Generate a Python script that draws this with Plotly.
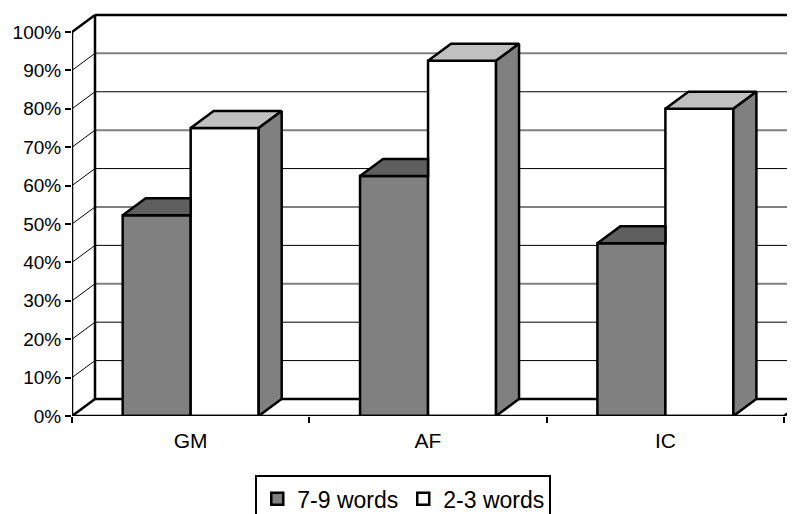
import plotly.graph_objects as go

categories = ["GM", "AF", "IC"]
series_names = ["7-9 words", "2-3 words"]
words_7_9 = [52.3, 62.5, 45]
words_2_3 = [75, 92.5, 80]
y_ticks = [0, 10, 20, 30, 40, 50, 60, 70, 80, 90, 100]
y_tick_labels = [f"{v}%" for v in y_ticks]

# style / projection constants
BAR_W = 0.2865
DX = 0.0969      # depth offset, category units
DY = 4.43        # depth offset, percent units
GREY = "#808080"
DARK = "#5f5f5f"
LIGHT = "#c0c0c0"
FONT = "Liberation Sans"
EDGE = 2.5
SOFT_GRID = (30, 50, 70, 90)
x_pos = [i + 0.5 for i in range(len(categories))]
X_END = 3.046

fig = go.Figure()

fig.add_trace(go.Bar(x=x_pos, y=words_7_9, name=series_names[0], width=BAR_W,
                     marker=dict(color=GREY, line=dict(color="black", width=EDGE))))
fig.add_trace(go.Bar(x=x_pos, y=words_2_3, name=series_names[1], width=BAR_W,
                     marker=dict(color="white", line=dict(color="black", width=EDGE))))


def poly(xs, ys, color):
    fig.add_trace(go.Scatter(x=xs + xs[:1], y=ys + ys[:1], mode="lines", fill="toself",
                             fillcolor=color, line=dict(color="black", width=EDGE),
                             showlegend=False, hoverinfo="skip"))


for c, v in zip(x_pos, words_7_9):
    x0, x1 = c - BAR_W, c
    poly([x0, x0 + DX, x1, x1], [v, v + DY, v + DY, v], DARK)

for c, v in zip(x_pos, words_2_3):
    x0, x1 = c, c + BAR_W
    poly([x0, x0 + DX, x1 + DX, x1], [v, v + DY, v + DY, v], LIGHT)
    poly([x1, x1 + DX, x1 + DX, x1], [v, v + DY, DY, 0], GREY)

shapes = []
for v in y_ticks:
    heavy = v in (0, 100)
    soft = v in SOFT_GRID
    col = "#808080" if soft else "black"
    w = EDGE if heavy else (2 if soft else 1)
    shapes.append(dict(type="line", xref="x", yref="y", layer="below", x0=DX, x1=X_END,
                       y0=v + DY, y1=v + DY, line=dict(color=col, width=w)))
    shapes.append(dict(type="line", xref="x", yref="y", layer="below", x0=0, x1=DX,
                       y0=v, y1=v + DY, line=dict(color="black", width=EDGE if heavy else 1)))
shapes.append(dict(type="line", xref="x", yref="y", layer="below", x0=DX, x1=DX,
                   y0=DY, y1=100 + DY, line=dict(color="black", width=EDGE)))
shapes.append(dict(type="line", xref="x", yref="y", layer="below", x0=3, x1=3 + DX,
                   y0=0, y1=DY, line=dict(color="black", width=EDGE)))
shapes.append(dict(type="line", xref="x", yref="y", layer="above", x0=0, x1=0,
                   y0=0, y1=100, line=dict(color="black", width=EDGE)))
shapes.append(dict(type="line", xref="x", yref="y", layer="above", x0=0, x1=3,
                   y0=0, y1=0, line=dict(color="black", width=EDGE)))

fig.update_layout(
    width=787, height=506,
    margin=dict(l=64, r=0, t=4, b=98, autoexpand=False),
    paper_bgcolor="white", plot_bgcolor="white",
    barmode="group", bargap=1 - 2 * BAR_W, bargroupgap=0,
    font=dict(family=FONT, size=19, color="black"),
    shapes=shapes,
    xaxis=dict(range=[0, X_END], tickmode="array", tickvals=x_pos, ticktext=categories,
               ticks="", showgrid=False, zeroline=False, showline=False,
               tickfont=dict(size=21), ticklabelstandoff=10,
               minor=dict(tickmode="array", tickvals=[0, 1, 2, 3], ticks="outside",
                          ticklen=6, tickwidth=2, tickcolor="black", showgrid=False)),
    yaxis=dict(range=[0, 105.2], tickmode="array", tickvals=y_ticks, ticktext=y_tick_labels,
               ticks="outside", ticklen=6, tickwidth=2, tickcolor="black",
               showgrid=False, zeroline=False, showline=False, tickfont=dict(size=19)),
    showlegend=True,
    legend=dict(orientation="h", x=0.2535, xanchor="left", y=-0.147, yanchor="top",
                bgcolor="white", bordercolor="black", borderwidth=2,
                font=dict(size=23), traceorder="normal", itemwidth=30),
)

fig.write_html("out.html")
